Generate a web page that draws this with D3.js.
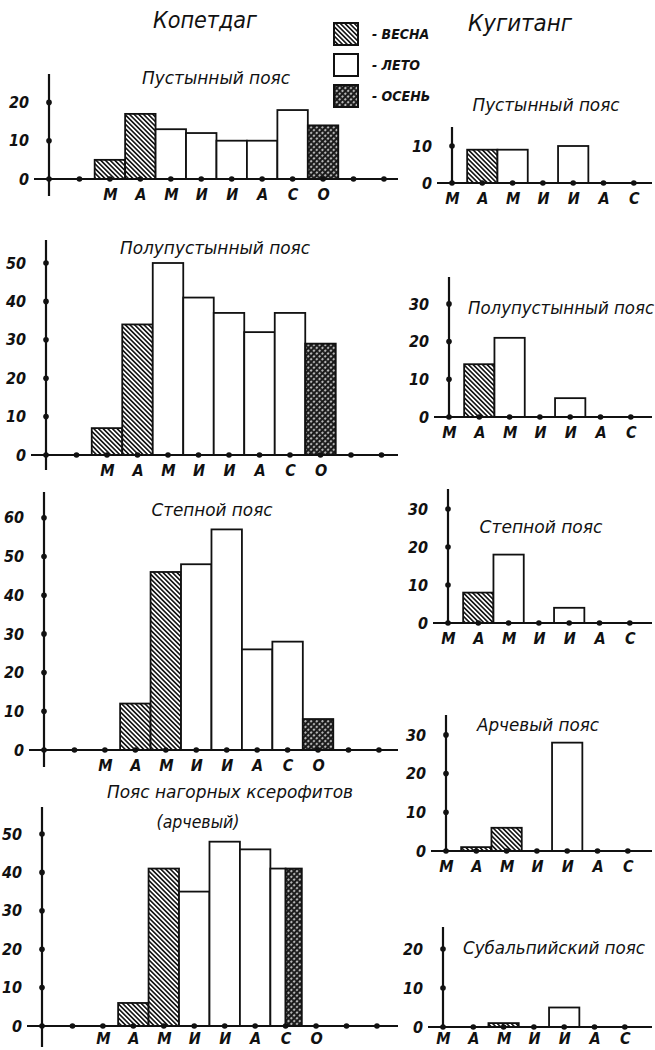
<!DOCTYPE html>
<html>
<head>
<meta charset="utf-8">
<script src="https://d3js.org/d3.v7.min.js"></script>
<style>
    body { margin: 0; background: #fff; }
    text {
        font-family: "DejaVu Sans Condensed", "DejaVu Sans", sans-serif;
        font-style: italic;
        fill: #111;
    }
    .num { font-weight: bold; font-size: 16px; }
    .mon { font-weight: bold; font-size: 16px; }
    .sub { font-size: 18px; }
    .head { font-size: 23px; }
    .leg { font-weight: bold; font-size: 14px; }
</style>
</head>
<body>
<svg id="chart" width="655" height="1050"></svg>
<script>
    // month tick labels (Копетдаг has 12 ticks from January, Кугитанг starts at March)
    var kopetMonths = ["", "", "М", "А", "М", "И", "И", "А", "С", "О", "", ""];
    var kugitMonths = ["М", "А", "М", "И", "И", "А", "С"];

    // season codes: в - весна, л - лето, о - осень, ло - half summer / half autumn
    var seasonNames = ["ВЕСНА", "ЛЕТО", "ОСЕНЬ"];
    var seasonCodes = ["в", "л", "о"];

    // Копетдаг
    var kopetDesert        = [0, 0, 5, 17, 13, 12, 10, 10, 18, 14, 0, 0];
    var kopetDesertSeason  = ["", "", "в", "в", "л", "л", "л", "л", "л", "о", "", ""];
    var kopetSemi          = [0, 0, 7, 34, 50, 41, 37, 32, 37, 29, 0, 0];
    var kopetSemiSeason    = ["", "", "в", "в", "л", "л", "л", "л", "л", "о", "", ""];
    var kopetSteppe        = [0, 0, 0, 12, 46, 48, 57, 26, 28, 8, 0, 0];
    var kopetSteppeSeason  = ["", "", "", "в", "в", "л", "л", "л", "л", "о", "", ""];
    var kopetJuniper       = [0, 0, 0, 6, 41, 35, 48, 46, 41, 0, 0, 0];
    var kopetJuniperSeason = ["", "", "", "в", "в", "л", "л", "л", "ло", "", "", ""];

    // Кугитанг
    var kugDesert          = [0, 9, 9, 0, 10, 0, 0];
    var kugDesertSeason    = ["", "в", "л", "", "л", "", ""];
    var kugSemi            = [0, 14, 21, 0, 5, 0, 0];
    var kugSemiSeason      = ["", "в", "л", "", "л", "", ""];
    var kugSteppe          = [0, 8, 18, 0, 4, 0, 0];
    var kugSteppeSeason    = ["", "в", "л", "", "л", "", ""];
    var kugJuniper         = [0, 1, 6, 0, 28, 0, 0];
    var kugJuniperSeason   = ["", "в", "в", "", "л", "", ""];
    var kugSubalp          = [0, 0, 1, 0, 5, 0, 0];
    var kugSubalpSeason    = ["", "", "в", "", "л", "", ""];

    var panels = [
        {months: kopetMonths, values: kopetDesert, seasons: kopetDesertSeason, ticks: [0, 10, 20],
         title: ["Пустынный пояс"], tx: 216, ty: 84, tw: 148, pad: 10,
         axisX: 49, base: 179, step: 30.45, px: 3.83, top: 74, bottom: 196, xEnd: 398},
        {months: kopetMonths, values: kopetSemi, seasons: kopetSemiSeason, ticks: [0, 10, 20, 30, 40, 50],
         title: ["Полупустынный пояс"], tx: 215, ty: 254, tw: 190, pad: 10,
         axisX: 46, base: 455, step: 30.5, px: 3.84, top: 240, bottom: 470, xEnd: 398},
        {months: kopetMonths, values: kopetSteppe, seasons: kopetSteppeSeason, ticks: [0, 10, 20, 30, 40, 50, 60],
         title: ["Степной пояс"], tx: 212, ty: 516, tw: 121, pad: 10,
         axisX: 44, base: 750, step: 30.45, px: 3.87, top: 492, bottom: 767, xEnd: 398},
        {months: kopetMonths, values: kopetJuniper, seasons: kopetJuniperSeason, ticks: [0, 10, 20, 30, 40, 50],
         title: ["Пояс нагорных ксерофитов", "(арчевый)"], tx: 230, ty: 798, tw: 246, tw2: 83, tx2: 198, pad: 7,
         axisX: 42, base: 1026, step: 30.45, px: 3.84, top: 807, bottom: 1047, xEnd: 398},
        {months: kugitMonths, values: kugDesert, seasons: kugDesertSeason, ticks: [0, 10],
         title: ["Пустынный пояс"], tx: 546, ty: 111, tw: 147, pad: 10,
         axisX: 452, base: 183, step: 30.3, px: 3.7, top: 127, bottom: 185, xEnd: 652},
        {months: kugitMonths, values: kugSemi, seasons: kugSemiSeason, ticks: [0, 10, 20, 30],
         title: ["Полупустынный пояс"], tx: 561, ty: 314, tw: 186, pad: 10,
         axisX: 449, base: 417, step: 30.3, px: 3.77, top: 277, bottom: 419, xEnd: 652},
        {months: kugitMonths, values: kugSteppe, seasons: kugSteppeSeason, ticks: [0, 10, 20, 30],
         title: ["Степной пояс"], tx: 541, ty: 533, tw: 123, pad: 10,
         axisX: 448, base: 623, step: 30.3, px: 3.8, top: 489, bottom: 625, xEnd: 652},
        {months: kugitMonths, values: kugJuniper, seasons: kugJuniperSeason, ticks: [0, 10, 20, 30],
         title: ["Арчевый пояс"], tx: 538, ty: 731, tw: 122, pad: 10,
         axisX: 446, base: 851, step: 30.3, px: 3.87, top: 715, bottom: 853, xEnd: 652},
        {months: kugitMonths, values: kugSubalp, seasons: kugSubalpSeason, ticks: [0, 10, 20],
         title: ["Субальпийский пояс"], tx: 554, ty: 954, tw: 182, pad: 6,
         axisX: 443, base: 1027, step: 30.3, px: 3.9, top: 927, bottom: 1029, xEnd: 652}
    ];

    var svg = d3.select("#chart");

    // fill patterns
    var defs = svg.append("defs");
    var hatch = defs.append("pattern").attr("id", "hatch")
        .attr("patternUnits", "userSpaceOnUse").attr("width", 3.3).attr("height", 6)
        .attr("patternTransform", "rotate(-45)");
    hatch.append("rect").attr("width", 3.3).attr("height", 6).attr("fill", "#fff");
    hatch.append("line").attr("x1", 0.8).attr("y1", 0).attr("x2", 0.8).attr("y2", 6)
        .attr("stroke", "#111").attr("stroke-width", 1.6);

    var cross = defs.append("pattern").attr("id", "cross")
        .attr("patternUnits", "userSpaceOnUse").attr("width", 4).attr("height", 4)
        .attr("patternTransform", "rotate(45)");
    cross.append("rect").attr("width", 4).attr("height", 4).attr("fill", "#1a1a1a");
    cross.append("ellipse").attr("cx", 2).attr("cy", 2).attr("rx", 0.8).attr("ry", 1.3).attr("fill", "#f2f2f2");

    var fills = {"в": "url(#hatch)", "л": "#fff", "о": "url(#cross)"};

    var drawPanel = function(p) {
        var g = svg.append("g");
        var idx = d3.range(p.months.length);
        var x = d3.scalePoint().domain(idx).range([p.axisX, p.axisX + p.step * (idx.length - 1)]);
        var ymax = d3.max(p.ticks);
        var y = d3.scaleLinear().domain([0, ymax]).range([p.base, p.base - ymax * p.px]);

        // bars
        idx.forEach(function(i) {
            var v = p.values[i];
            if (!v) return;
            var s = p.seasons[i];
            var x0 = x(i) - p.step / 2;
            if (s == "ло") {
                g.append("rect").attr("x", x0).attr("y", y(v)).attr("width", p.step / 2)
                    .attr("height", y(0) - y(v)).attr("fill", "#fff")
                    .attr("stroke", "#111").attr("stroke-width", 1.8);
                g.append("rect").attr("x", x(i)).attr("y", y(v)).attr("width", p.step / 2 + 1)
                    .attr("height", y(0) - y(v)).attr("fill", "url(#cross)")
                    .attr("stroke", "#111").attr("stroke-width", 1.8);
            } else {
                g.append("rect").attr("x", x0).attr("y", y(v)).attr("width", p.step)
                    .attr("height", y(0) - y(v)).attr("fill", fills[s])
                    .attr("stroke", "#111").attr("stroke-width", 1.8);
            }
        });

        // axis lines
        g.append("line").attr("x1", p.axisX - 15).attr("x2", p.xEnd)
            .attr("y1", y(0)).attr("y2", y(0)).attr("stroke", "#111").attr("stroke-width", 2.2);
        g.append("line").attr("x1", p.axisX).attr("x2", p.axisX)
            .attr("y1", p.top).attr("y2", p.bottom).attr("stroke", "#111").attr("stroke-width", 2.2);

        // tick dots
        g.selectAll(".xdot").data(idx).join("circle")
            .attr("cx", d => x(d)).attr("cy", y(0)).attr("r", 2.8).attr("fill", "#111");
        g.selectAll(".ydot").data(p.ticks.slice(1)).join("circle")
            .attr("cx", p.axisX).attr("cy", d => y(d)).attr("r", 2.8).attr("fill", "#111");

        // y labels
        var ya = g.append("g").attr("transform", "translate(" + (p.axisX - 20) + ",0)")
            .call(d3.axisLeft(y).tickValues(p.ticks).tickSize(0).tickPadding(0));
        ya.select(".domain").remove();
        ya.selectAll("text").attr("class", "num").attr("font-family", null).attr("font-size", null);

        // month labels
        var xa = g.append("g").attr("transform", "translate(0," + p.base + ")")
            .call(d3.axisBottom(x).tickFormat(d => p.months[d]).tickSize(0).tickPadding(p.pad));
        xa.select(".domain").remove();
        xa.selectAll("text").attr("class", "mon").attr("font-family", null).attr("font-size", null);

        // panel title
        g.append("text").attr("class", "sub").attr("x", p.tx).attr("y", p.ty)
            .attr("text-anchor", "middle").attr("textLength", p.tw)
            .attr("lengthAdjust", "spacingAndGlyphs").text(p.title[0]);
        if (p.title.length > 1) {
            g.append("text").attr("class", "sub").attr("x", p.tx2).attr("y", p.ty + 30)
                .attr("text-anchor", "middle").attr("textLength", p.tw2)
                .attr("lengthAdjust", "spacingAndGlyphs").text(p.title[1]);
        }
    };

    panels.forEach(drawPanel);

    // region headers
    svg.append("text").attr("class", "head").attr("x", 205).attr("y", 28)
        .attr("text-anchor", "middle").attr("textLength", 104).attr("lengthAdjust", "spacingAndGlyphs")
        .text("Копетдаг");
    svg.append("text").attr("class", "head").attr("x", 520).attr("y", 31)
        .attr("text-anchor", "middle").attr("textLength", 104).attr("lengthAdjust", "spacingAndGlyphs")
        .text("Кугитанг");

    // legend
    var leg = svg.append("g").attr("transform", "translate(334,23)");
    seasonCodes.forEach(function(c, i) {
        leg.append("rect").attr("x", 0).attr("y", i * 31).attr("width", 24).attr("height", 22)
            .attr("fill", fills[c]).attr("stroke", "#111").attr("stroke-width", 2);
        leg.append("text").attr("class", "leg").attr("x", 38).attr("y", i * 31 + 16)
            .text("- " + seasonNames[i]);
    });
</script>
</body>
</html>
